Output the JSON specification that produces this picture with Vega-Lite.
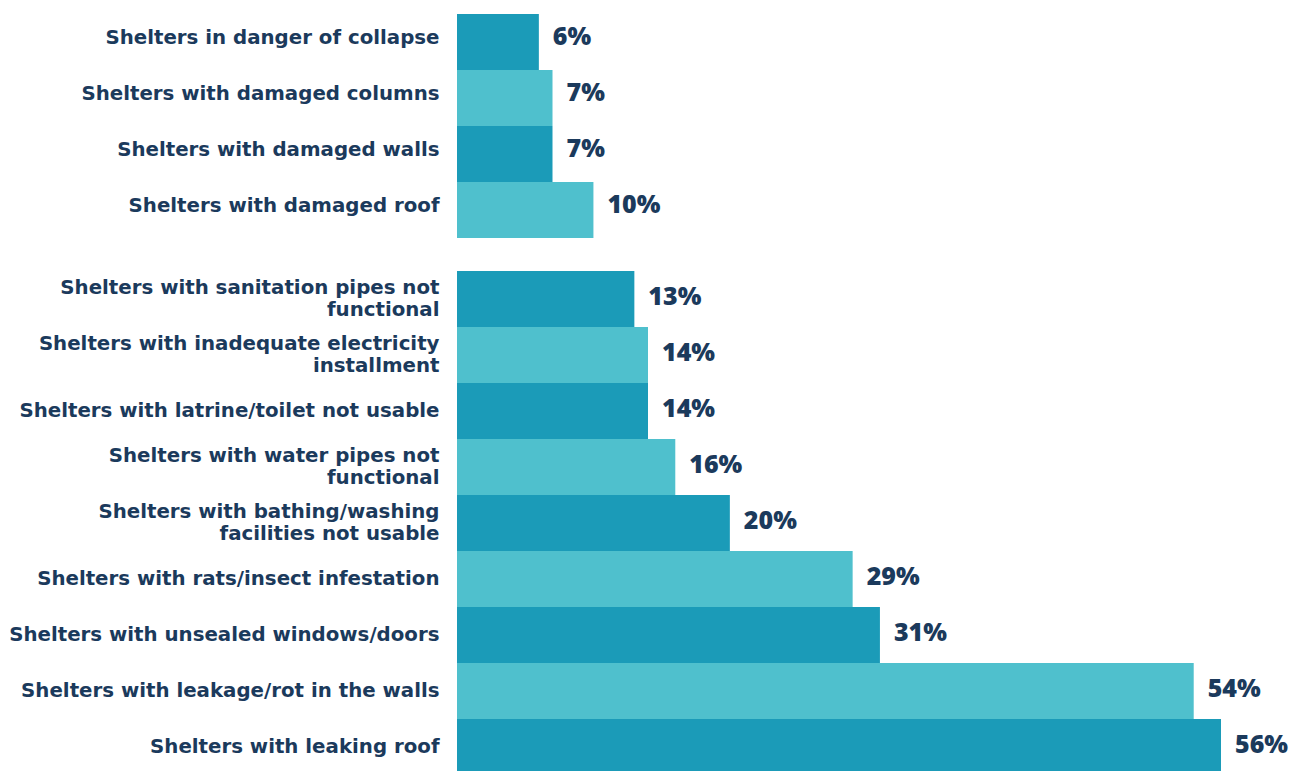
{
  "$schema": "https://vega.github.io/schema/vega-lite/v6.json",
  "padding": {"left": 0, "top": 14, "right": 0, "bottom": 0},
  "background": "white",
  "spacing": 33,
  "config": {
    "view": {"stroke": null},
    "axisY": {
      "domain": false, "ticks": false, "grid": false, "title": null,
      "labelFont": "DejaVu Sans", "labelFontWeight": "bold", "labelFontSize": 19.8,
      "labelColor": "#1b3a5c", "labelPadding": 18, "labelLimit": 500,
      "labelLineHeight": 22, "labelOverlap": false,
      "minExtent": 457, "maxExtent": 457,
      "labelExpr": "split(replace(replace(replace(datum.label, ' functional', '|functional'), ' installment', '|installment'), ' facilities', '|facilities'), '|')"
    }
  },
  "datasets": {
    "structural": [
      {"item": "Shelters in danger of collapse", "share": 0.06},
      {"item": "Shelters with damaged columns", "share": 0.07},
      {"item": "Shelters with damaged walls", "share": 0.07},
      {"item": "Shelters with damaged roof", "share": 0.10}
    ],
    "conditions": [
      {"item": "Shelters with sanitation pipes not functional", "share": 0.13},
      {"item": "Shelters with inadequate electricity installment", "share": 0.14},
      {"item": "Shelters with latrine/toilet not usable", "share": 0.14},
      {"item": "Shelters with water pipes not functional", "share": 0.16},
      {"item": "Shelters with bathing/washing facilities not usable", "share": 0.20},
      {"item": "Shelters with rats/insect infestation", "share": 0.29},
      {"item": "Shelters with unsealed windows/doors", "share": 0.31},
      {"item": "Shelters with leakage/rot in the walls", "share": 0.54},
      {"item": "Shelters with leaking roof", "share": 0.56}
    ]
  },
  "vconcat": [
    {
      "width": 764, "height": 224,
      "data": {"name": "structural"},
      "encoding": {
        "y": {"field": "item", "type": "nominal", "sort": null, "scale": {"paddingInner": 0, "paddingOuter": 0},
          "axis": {"labelOffset": -4}},
        "x": {"field": "share", "type": "quantitative", "axis": null, "scale": {"domain": [0, 0.56], "nice": false}}
      },
      "layer": [
        {
          "mark": {"type": "bar"},
          "encoding": {
            "color": {"field": "item", "type": "nominal", "legend": null,
              "scale": {"domain": ["Shelters in danger of collapse", "Shelters with damaged columns", "Shelters with damaged walls", "Shelters with damaged roof"],
                        "range": ["#1b9bb8", "#4fc0cd", "#1b9bb8", "#4fc0cd"]}}
          }
        },
        {
          "mark": {"type": "text", "align": "left", "baseline": "middle", "dx": 14, "dy": -5, "font": "Open Sans", "fontWeight": 800, "fontSize": 25, "color": "#1b3a5c"},
          "encoding": {"text": {"field": "share", "type": "quantitative", "format": ".0%"}}
        }
      ]
    },
    {
      "width": 764, "height": 504,
      "data": {"name": "conditions"},
      "encoding": {
        "y": {"field": "item", "type": "nominal", "sort": null, "scale": {"paddingInner": 0, "paddingOuter": 0},
          "axis": {"labelOffset": {"condition": {"test": "indexof(datum.value, ' functional') >= 0 || indexof(datum.value, ' installment') >= 0 || indexof(datum.value, ' facilities') >= 0", "value": -11}, "value": 0}}},
        "x": {"field": "share", "type": "quantitative", "axis": null, "scale": {"domain": [0, 0.56], "nice": false}}
      },
      "layer": [
        {
          "mark": {"type": "bar"},
          "encoding": {
            "color": {"field": "item", "type": "nominal", "legend": null,
              "scale": {"domain": ["Shelters with sanitation pipes not functional", "Shelters with inadequate electricity installment", "Shelters with latrine/toilet not usable", "Shelters with water pipes not functional", "Shelters with bathing/washing facilities not usable", "Shelters with rats/insect infestation", "Shelters with unsealed windows/doors", "Shelters with leakage/rot in the walls", "Shelters with leaking roof"],
                        "range": ["#1b9bb8", "#4fc0cd", "#1b9bb8", "#4fc0cd", "#1b9bb8", "#4fc0cd", "#1b9bb8", "#4fc0cd", "#1b9bb8"]}}
          }
        },
        {
          "mark": {"type": "text", "align": "left", "baseline": "middle", "dx": 14, "dy": -2, "font": "Open Sans", "fontWeight": 800, "fontSize": 25, "color": "#1b3a5c"},
          "encoding": {"text": {"field": "share", "type": "quantitative", "format": ".0%"}}
        }
      ]
    }
  ],
  "resolve": {"scale": {"color": "independent"}}
}
